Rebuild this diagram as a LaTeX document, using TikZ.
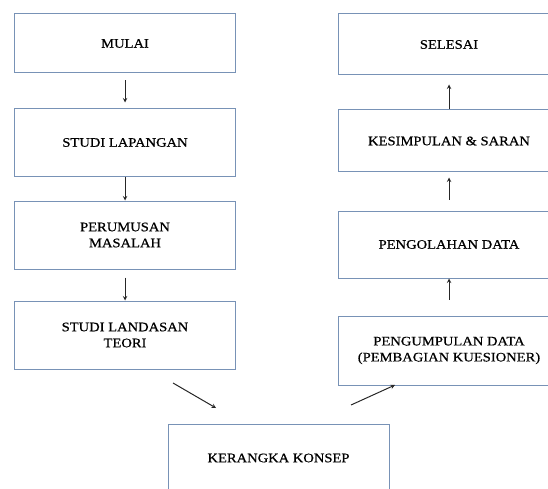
\documentclass[tikz,border=0pt]{standalone}
\usepackage{fontspec}
\setmainfont{Liberation Serif}[FakeStretch=1.12,FakeBold=0.6]
\usepackage{xcolor}
\usepackage{tikz}
\usetikzlibrary{positioning}
\usetikzlibrary{calc,arrows}

\definecolor{boxblue}{RGB}{120,146,182}

\begin{document}
\begin{tikzpicture}[x=1pt, y=1pt,
    box/.style={draw=boxblue, line width=1pt, minimum width=221pt,
    minimum height=67pt, align=center, inner sep=2pt,
    font=\fontsize{13}{16}\selectfont},
    arr/.style={->, line width=1pt, draw=black!85},
    >=stealth]

  \clip (0,0) rectangle (548,488);
  \useasboundingbox (0,0) rectangle (548,488);

  % left column
  \node[box, minimum height=59pt] (mulai) at (125,444.5) {MULAI};
  \node[box] (lapangan) at (125,345.5) {STUDI LAPANGAN};
  \node[box, minimum height=68pt] (masalah) at (125,253) {PERUMUSAN\\MASALAH};
  \node[box, minimum height=68pt] (teori) at (125,153) {STUDI LANDASAN\\TEORI};

  % bottom
  \node[box, minimum height=68pt] (konsep) at (278.5,30) {KERANGKA KONSEP};

  % right column
  \node[box, minimum width=222pt, minimum height=69pt] (pengumpulan) at (449,137.5)
    {PENGUMPULAN DATA\\(PEMBAGIAN KUESIONER)};
  \node[box, minimum width=222pt] (pengolahan) at (449,243.5) {PENGOLAHAN DATA};
  \node[box, minimum width=222pt, minimum height=62pt] (kesimpulan) at (449,347)
    {KESIMPULAN \& SARAN};
  \node[box, minimum width=222pt, minimum height=61pt] (selesai) at (449,443.5) {SELESAI};

  \coordinate (t1) at (173,105);
  \coordinate (k1) at (216,80);
  \coordinate (k2) at (351,83);
  \coordinate (p1) at (395,103);

  \draw[arr, shorten <=7pt, shorten >=6pt] (mulai) -- (lapangan);
  \draw[arr] (lapangan) -- (masalah);
  \draw[arr, shorten <=8pt] (masalah) -- (teori);
  \draw[arr] (t1) -- (k1);
  \draw[arr] (k2) -- (p1);
  \draw[arr, shorten <=16pt] (pengumpulan) -- (pengolahan);
  \draw[arr, shorten <=11pt, shorten >=5pt] (pengolahan) -- (kesimpulan);
  \draw[arr, shorten >=9pt] (kesimpulan) -- (selesai);
\end{tikzpicture}
\end{document}
